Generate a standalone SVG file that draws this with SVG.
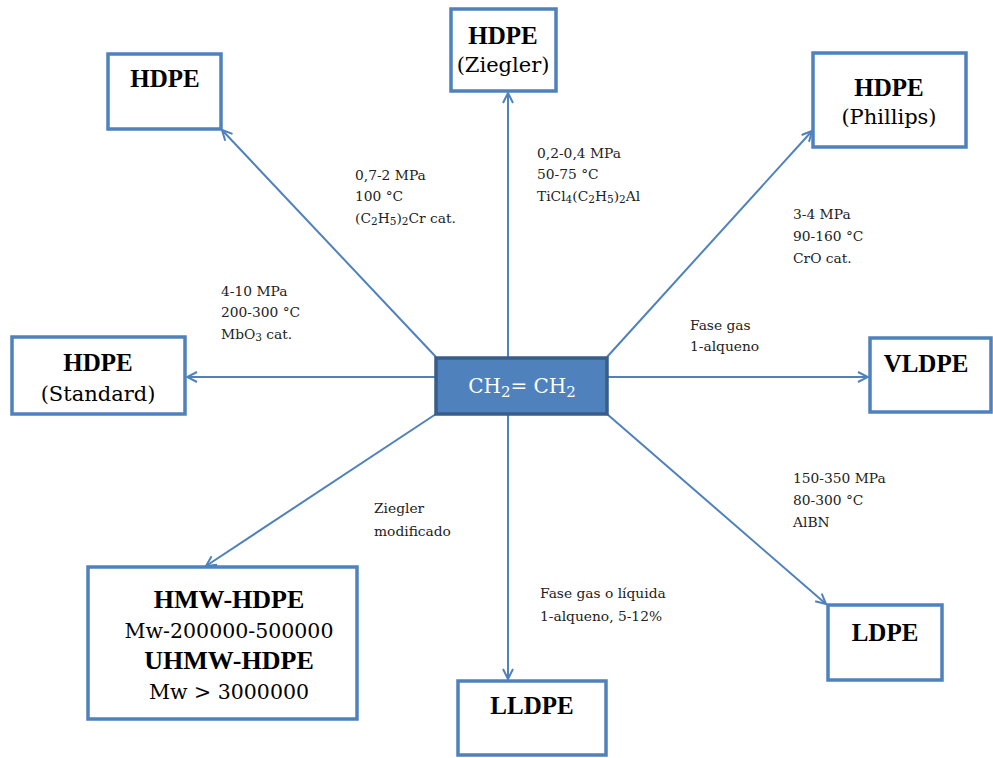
<svg xmlns="http://www.w3.org/2000/svg" width="993" height="758" viewBox="0 0 993 758">
<style>
.box{fill:#fff;stroke:#4f81bd;stroke-width:3.5}
.t{fill:#000;text-anchor:middle}
.b{font-family:"Liberation Serif",serif;font-weight:bold;font-size:25px}
.n{font-family:"DejaVu Serif",serif;font-size:21px}
.lab{font-family:"DejaVu Serif",serif;font-size:13.8px;fill:#222}
.sub{font-size:10.5px}
.con line{stroke:#4f81bd;stroke-width:2;marker-end:url(#ah)}
</style>
<defs>
<marker id="ah" viewBox="0 0 12 12" refX="11" refY="6" markerWidth="12" markerHeight="12" markerUnits="userSpaceOnUse" orient="auto">
<path d="M1,1 L11,6 L1,11" fill="none" stroke="#4f81bd" stroke-width="2"/>
</marker>
</defs>
<rect width="993" height="758" fill="#fff"/>
<g class="con">
<line x1="508" y1="357" x2="508" y2="93"/>
<line x1="436" y1="357" x2="222" y2="130"/>
<line x1="607" y1="357" x2="812" y2="131"/>
<line x1="436" y1="377" x2="187" y2="377"/>
<line x1="607" y1="377" x2="868" y2="377"/>
<line x1="436" y1="414" x2="206" y2="566"/>
<line x1="508" y1="414" x2="508" y2="679"/>
<line x1="607" y1="414" x2="826" y2="604"/>
</g>
<g id="center">
<rect x="436" y="358" width="171" height="56" fill="#4f81bd" stroke="#385d8a" stroke-width="3.5"/>
<text x="522" y="393" text-anchor="middle" font-family="DejaVu Serif, serif" font-size="20" fill="#fff">CH<tspan font-size="15" dy="4">2</tspan><tspan dy="-4">= CH</tspan><tspan font-size="15" dy="4">2</tspan></text>
</g>
<g id="hdpe">
<rect class="box" x="108" y="54" width="113" height="75"/>
<text class="t b" x="165" y="87">HDPE</text>
</g>
<g id="hdpe-ziegler">
<rect class="box" x="451" y="9" width="105" height="82"/>
<text class="t b" x="503" y="44">HDPE</text>
<text class="t n" x="503" y="72">(Ziegler)</text>
</g>
<g id="hdpe-phillips">
<rect class="box" x="813" y="53" width="153" height="94"/>
<text class="t b" x="889" y="96">HDPE</text>
<text class="t n" x="889" y="124">(Phillips)</text>
</g>
<g id="hdpe-standard">
<rect class="box" x="12" y="337" width="173" height="77"/>
<text class="t b" x="98" y="371">HDPE</text>
<text class="t n" x="98" y="401">(Standard)</text>
</g>
<g id="vldpe">
<rect class="box" x="870" y="338" width="121" height="74"/>
<text class="t b" x="926" y="372">VLDPE</text>
</g>
<g id="hmw">
<rect class="box" x="88" y="567" width="269" height="152"/>
<text class="t b" x="229" y="608" style="font-size:26px">HMW-HDPE</text>
<text class="t n" x="229" y="638" style="font-size:20.5px">Mw-200000-500000</text>
<text class="t b" x="229" y="669" style="font-size:26px">UHMW-HDPE</text>
<text class="t n" x="229" y="699" style="font-size:20.5px">Mw &gt; 3000000</text>
</g>
<g id="lldpe">
<rect class="box" x="458" y="681" width="148" height="74"/>
<text class="t b" x="532" y="714">LLDPE</text>
</g>
<g id="ldpe">
<rect class="box" x="828" y="605" width="114" height="75"/>
<text class="t b" x="885" y="641">LDPE</text>
</g>
<g id="labels">
<text class="lab" x="355" y="180">0,7-2 MPa</text>
<text class="lab" x="355" y="201">100 °C</text>
<text class="lab" x="355" y="223">(C<tspan class="sub" dy="2">2</tspan><tspan dy="-2">H</tspan><tspan class="sub" dy="2">5</tspan><tspan dy="-2">)</tspan><tspan class="sub" dy="2">2</tspan><tspan dy="-2">Cr cat.</tspan></text>
<text class="lab" x="537" y="158">0,2-0,4 MPa</text>
<text class="lab" x="537" y="179">50-75 °C</text>
<text class="lab" x="537" y="201">TiCl<tspan class="sub" dy="2">4</tspan><tspan dy="-2">(C</tspan><tspan class="sub" dy="2">2</tspan><tspan dy="-2">H</tspan><tspan class="sub" dy="2">5</tspan><tspan dy="-2">)</tspan><tspan class="sub" dy="2">2</tspan><tspan dy="-2">Al</tspan></text>
<text class="lab" x="221" y="296">4-10 MPa</text>
<text class="lab" x="221" y="317">200-300 °C</text>
<text class="lab" x="221" y="339">MbO<tspan class="sub" dy="2">3</tspan><tspan dy="-2"> cat.</tspan></text>
<text class="lab" x="793" y="219">3-4 MPa</text>
<text class="lab" x="793" y="241">90-160 °C</text>
<text class="lab" x="793" y="263">CrO cat.</text>
<text class="lab" x="690" y="330">Fase gas</text>
<text class="lab" x="690" y="351">1-alqueno</text>
<text class="lab" x="793" y="483">150-350 MPa</text>
<text class="lab" x="793" y="505">80-300 °C</text>
<text class="lab" x="793" y="527">AlBN</text>
<text class="lab" x="374" y="513">Ziegler</text>
<text class="lab" x="374" y="536">modificado</text>
<text class="lab" x="540" y="598">Fase gas o líquida</text>
<text class="lab" x="540" y="621">1-alqueno, 5-12%</text>
</g>
</svg>
